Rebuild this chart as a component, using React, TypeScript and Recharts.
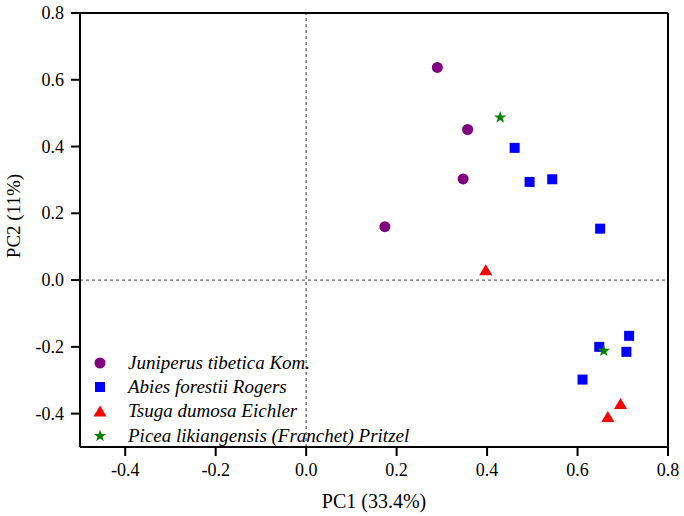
import React from "react";
import {
  ScatterChart,
  Scatter,
  XAxis,
  YAxis,
  ReferenceLine,
} from "recharts";

// PCA scores
const juniperus = [
  { x: 0.29, y: 0.637 },
  { x: 0.357, y: 0.451 },
  { x: 0.347, y: 0.303 },
  { x: 0.174, y: 0.16 },
];

const abies = [
  { x: 0.461, y: 0.396 },
  { x: 0.494, y: 0.294 },
  { x: 0.544, y: 0.302 },
  { x: 0.65, y: 0.154 },
  { x: 0.714, y: -0.167 },
  { x: 0.648, y: -0.2 },
  { x: 0.708, y: -0.215 },
  { x: 0.611, y: -0.298 },
];

const tsuga = [
  { x: 0.397, y: 0.031 },
  { x: 0.695, y: -0.37 },
  { x: 0.667, y: -0.409 },
];

const picea = [
  { x: 0.429, y: 0.487 },
  { x: 0.658, y: -0.212 },
];

const xTicks = [-0.4, -0.2, 0.0, 0.2, 0.4, 0.6, 0.8];
const yTicks = [-0.4, -0.2, 0.0, 0.2, 0.4, 0.6, 0.8];

const FONT = "Liberation Serif, Times New Roman, serif";

const PURPLE = "#800080";
const BLUE = "#0000ff";
const RED = "#ff0000";
const GREEN = "#008000";

function Dot({ cx, cy, fill }: any) {
  return <circle cx={cx} cy={cy} r={5.5} fill={fill} />;
}

function Sq({ cx, cy, fill }: any) {
  return <rect x={cx - 5} y={cy - 5} width={10} height={10} fill={fill} />;
}

function Tri({ cx, cy, fill }: any) {
  return (
    <polygon
      points={`${cx},${cy - 5.5} ${cx - 6.5},${cy + 5.5} ${cx + 6.5},${cy + 5.5}`}
      fill={fill}
    />
  );
}

function starPoints(cx: number, cy: number, ro: number, ri: number) {
  const pts: string[] = [];
  for (let i = 0; i < 10; i++) {
    const r = i % 2 === 0 ? ro : ri;
    const a = -Math.PI / 2 + (i * Math.PI) / 5;
    pts.push(`${cx + r * Math.cos(a)},${cy + r * Math.sin(a)}`);
  }
  return pts.join(" ");
}

function Star({ cx, cy, fill }: any) {
  return <polygon points={starPoints(cx, cy, 6.5, 2.6)} fill={fill} />;
}

const series = [
  { name: "Juniperus tibetica Kom.", data: juniperus, color: PURPLE, Shape: Dot },
  { name: "Abies forestii Rogers", data: abies, color: BLUE, Shape: Sq },
  { name: "Tsuga dumosa Eichler", data: tsuga, color: RED, Shape: Tri },
  { name: "Picea likiangensis (Franchet) Pritzel", data: picea, color: GREEN, Shape: Star },
];

function XTick({ x, y, payload }: any) {
  return (
    <text x={x} y={y + 14} textAnchor="middle" fontFamily={FONT} fontSize={18} fill="#000">
      {Number(payload.value).toFixed(1)}
    </text>
  );
}

function YTick({ x, y, payload }: any) {
  return (
    <text x={x} y={y + 6} textAnchor="end" fontFamily={FONT} fontSize={18} fill="#000">
      {Number(payload.value).toFixed(1)}
    </text>
  );
}

export default function App() {
  return (
    <div style={{ position: "relative", width: 684, height: 516, fontFamily: FONT }}>
      <style>{"body{margin:0}"}</style>
      <ScatterChart
        width={684}
        height={516}
        margin={{ top: 13, right: 16, left: 0, bottom: 0 }}
      >
        <XAxis
          type="number"
          dataKey="x"
          domain={[-0.5, 0.8]}
          ticks={xTicks}
          allowDataOverflow
          axisLine={{ stroke: "#000", strokeWidth: 2 }}
          tickLine={{ stroke: "#000", strokeWidth: 2 }}
          tickSize={9}
          tickMargin={6}
          tick={<XTick />}
          height={69}
          label={{
            value: "PC1 (33.4%)",
            position: "insideBottom",
            offset: 8,
            style: { fontSize: 20, fill: "#000", fontFamily: FONT },
          }}
        />
        <YAxis
          type="number"
          dataKey="y"
          domain={[-0.5, 0.8]}
          ticks={yTicks}
          allowDataOverflow
          axisLine={{ stroke: "#000", strokeWidth: 2 }}
          tickLine={{ stroke: "#000", strokeWidth: 2 }}
          tickSize={9}
          tickMargin={7}
          tick={<YTick />}
          width={80}
        />
        <ReferenceLine x={0} stroke="#666" strokeWidth={1.3} strokeDasharray="3 3" />
        <ReferenceLine y={0} stroke="#666" strokeWidth={1.3} strokeDasharray="3 3" />
        <ReferenceLine x={0.8} stroke="#000" strokeWidth={2} />
        <ReferenceLine y={0.8} stroke="#000" strokeWidth={2} />
        {series.map((s) => (
          <Scatter
            key={s.name}
            name={s.name}
            data={s.data}
            fill={s.color}
            shape={(p: any) => <s.Shape {...p} fill={s.color} />}
            isAnimationActive={false}
          />
        ))}
      </ScatterChart>

      <div
        style={{
          position: "absolute",
          left: 14,
          top: 216,
          transform: "translate(-50%, -50%) rotate(-90deg)",
          fontSize: 19,
          whiteSpace: "nowrap",
          color: "#000",
        }}
      >
        PC2 (11%)
      </div>

      {series.map((s, i) => (
        <div
          key={s.name}
          style={{
            position: "absolute",
            left: 90,
            top: 363 + i * 24.2 - 12,
            height: 24,
            display: "flex",
            alignItems: "center",
            whiteSpace: "nowrap",
          }}
        >
          <svg width={20} height={20} style={{ display: "block" }}>
            <s.Shape cx={10} cy={10} fill={s.color} />
          </svg>
          <span
            style={{
              marginLeft: 18,
              fontStyle: "italic",
              fontFamily: FONT,
              fontSize: 19,
              color: "#000",
              lineHeight: "24px",
            }}
          >
            {s.name}
          </span>
        </div>
      ))}
    </div>
  );
}
